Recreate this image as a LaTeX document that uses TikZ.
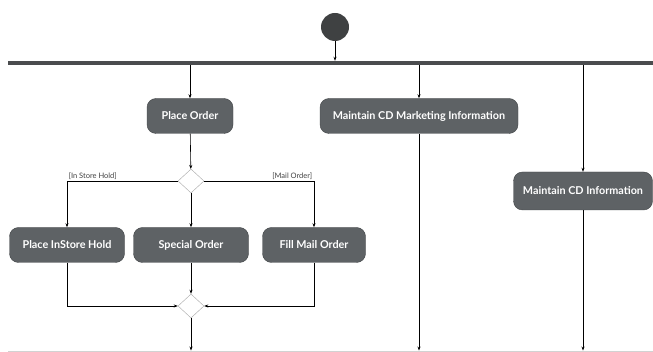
\documentclass[tikz,border=0pt]{standalone}
\usepackage{fontspec}
\setmainfont{Lato}
\usetikzlibrary{arrows.meta,shapes.geometric,calc}
\definecolor{actgray}{HTML}{5E6265}
\definecolor{bargray}{HTML}{4A4C4E}
\tikzset{
>={Stealth[length=4pt,width=3pt]},
action node/.style={rectangle,rounded corners=9pt,fill=actgray,draw=actgray!70!black,text=white,font=\bfseries\fontsize{10.8}{12}\selectfont,minimum height=35pt,inner sep=2pt},
choice node/.style={diamond,draw=gray!70,fill=white,minimum width=26pt,minimum height=24pt,inner sep=0pt},
bar node/.style={rectangle,fill=bargray,inner sep=0pt,minimum width=645pt,minimum height=4pt},
freccia/.style={->,semithick},
guard/.style={font=\fontsize{7.5}{8}\selectfont,text=black!75,inner sep=1.5pt}}

\begin{document}
\begin{tikzpicture}[x=1pt,y=-1pt]
\useasboundingbox (0,0) rectangle (653,352);

\node[circle,fill=bargray!85!black,minimum size=28pt,inner sep=0pt] (start) at (335,27) {};
\node[bar node] (forkbar) at (330.5,63) {};
\node[bar node,fill=gray!35,minimum height=1.5pt] (joinbar) at (330.5,351.5) {};

\node[action node,minimum width=86pt] (order) at (190,116) {Place Order};
\node[action node,minimum width=198pt] (marketing) at (419,116) {Maintain CD Marketing Information};
\node[action node,minimum width=139pt,minimum height=38pt] (cdinfo) at (583,191) {Maintain CD Information};

\node[choice node] (split) at (191,181) {};
\node[action node,minimum width=115pt] (instore) at (67,245) {Place InStore Hold};
\node[action node,minimum width=115pt] (special) at (191,245) {Special Order};
\node[action node,minimum width=103pt] (mailorder) at (314,245) {Fill Mail Order};
\node[choice node] (merge) at (191,306) {};

% fork
\draw[freccia] (start) -- (start |- forkbar.north);
\draw[freccia] (order |- forkbar.south) -- (order);
\draw[freccia] (marketing |- forkbar.south) -- (marketing);
\draw[freccia] (cdinfo |- forkbar.south) -- (cdinfo);

% decision
\draw[freccia] (order) -- (split);
\draw[freccia] (split.west) -| node[guard,pos=0.5,anchor=south west] {[In Store Hold]} (instore);
\draw[freccia] (split) -- (special);
\draw[freccia] (split.east) -| node[guard,pos=0.5,anchor=south east] {[Mail Order]} (mailorder);

% merge
\draw[freccia] (instore) |- (merge.west);
\draw[freccia] (special) -- (merge);
\draw[freccia] (mailorder) |- (merge.east);

% join
\draw[freccia] (merge) -- (merge |- joinbar.north);
\draw[freccia] (marketing) -- (marketing |- joinbar.north);
\draw[freccia] (cdinfo) -- (cdinfo |- joinbar.north);

\end{tikzpicture}
\end{document}
